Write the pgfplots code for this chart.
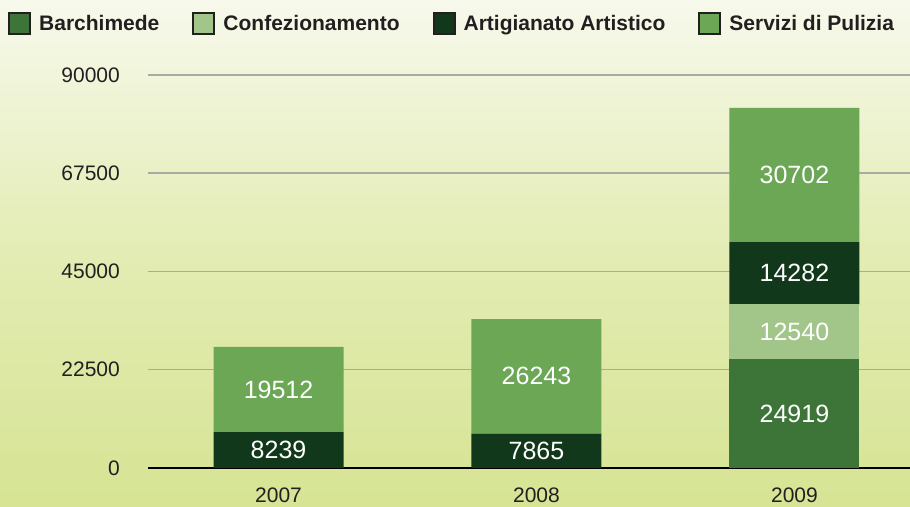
\documentclass[border=0pt]{standalone}
\usepackage{fontspec}
\setmainfont{Liberation Sans}
\usepackage{pgfplots}
\pgfplotsset{compat=1.18}
\definecolor{cBar}{HTML}{3D7539}
\definecolor{cConf}{HTML}{A2C58A}
\definecolor{cArt}{HTML}{12381B}
\definecolor{cServ}{HTML}{6BA755}
\definecolor{txt}{HTML}{231F20}
\definecolor{bgTop}{HTML}{F7F9EC}
\definecolor{bgMid}{HTML}{E3ECB3}
\definecolor{bgBot}{HTML}{D6E494}
\definecolor{gridc}{HTML}{A9AAA2}
\begin{document}
\begin{tikzpicture}
\useasboundingbox (0,0) rectangle (910pt,506pt);
\shade[top color=bgTop, bottom color=bgBot, middle color=bgMid] (0,0) rectangle (910pt,506pt);
\begin{axis}[
  at={(148pt,38pt)}, anchor=south west,
  scale only axis, width=762pt, height=393pt,
  xmin=-0.506, xmax=2.448, ymin=0, ymax=90000,
  ybar stacked, bar width=130pt,
  xtick={0,1,2}, xticklabels={2007,2008,2009},
  ytick={0,22500,45000,67500,90000},
  scaled y ticks=false,
  /pgf/number format/1000 sep={},
  /pgf/number format/assume math mode=true,
  ymajorgrids, major grid style={gridc, line width=1.5pt},
  axis x line*=bottom, axis y line*=left,
  y axis line style={draw=none},
  x axis line style={black, line width=2pt},
  major tick length=0pt, tick style={draw=none},
  tick label style={font=\fontsize{21}{25}\selectfont, text=txt, inner sep=0pt},
  yticklabel style={anchor=east, xshift=-28pt},
  xticklabel style={anchor=north, yshift=-20pt},
  legend columns=4,
  legend style={at={(-0.1837,1.1323)}, anchor=west, draw=none, fill=none, inner sep=0pt,
     font=\bfseries\fontsize{21}{25}\selectfont, text=txt,
     nodes={inner sep=0pt},
     /tikz/every odd column/.append style={column sep=8pt},
     /tikz/every even column/.append style={column sep=33pt}},
  legend image code/.code={\draw[#1, draw=txt, line width=2pt] (0pt,-10pt) rectangle (21pt,11pt);},
  nodes near coords={\pgfmathfloatparsenumber{\pgfplotspointmeta}\pgfmathfloatifflags{\pgfmathresult}{0}{}{\pgfmathprintnumber{\pgfplotspointmeta}}},
  every node near coord/.append style={anchor=center, font=\fontsize{25}{30}\selectfont, text=white},
]
\addplot[fill=cBar, draw=none] coordinates {(0,0) (1,0) (2,24919)};
\addplot[fill=cConf, draw=none] coordinates {(0,0) (1,0) (2,12540)};
\addplot[fill=cArt, draw=none] coordinates {(0,8239) (1,7865) (2,14282)};
\addplot[fill=cServ, draw=none] coordinates {(0,19512) (1,26243) (2,30702)};
\legend{Barchimede\hspace{7pt}, Confezionamento\hspace{7pt}, Artigianato Artistico, Servizi di Pulizia}
\end{axis}
\end{tikzpicture}
\end{document}
